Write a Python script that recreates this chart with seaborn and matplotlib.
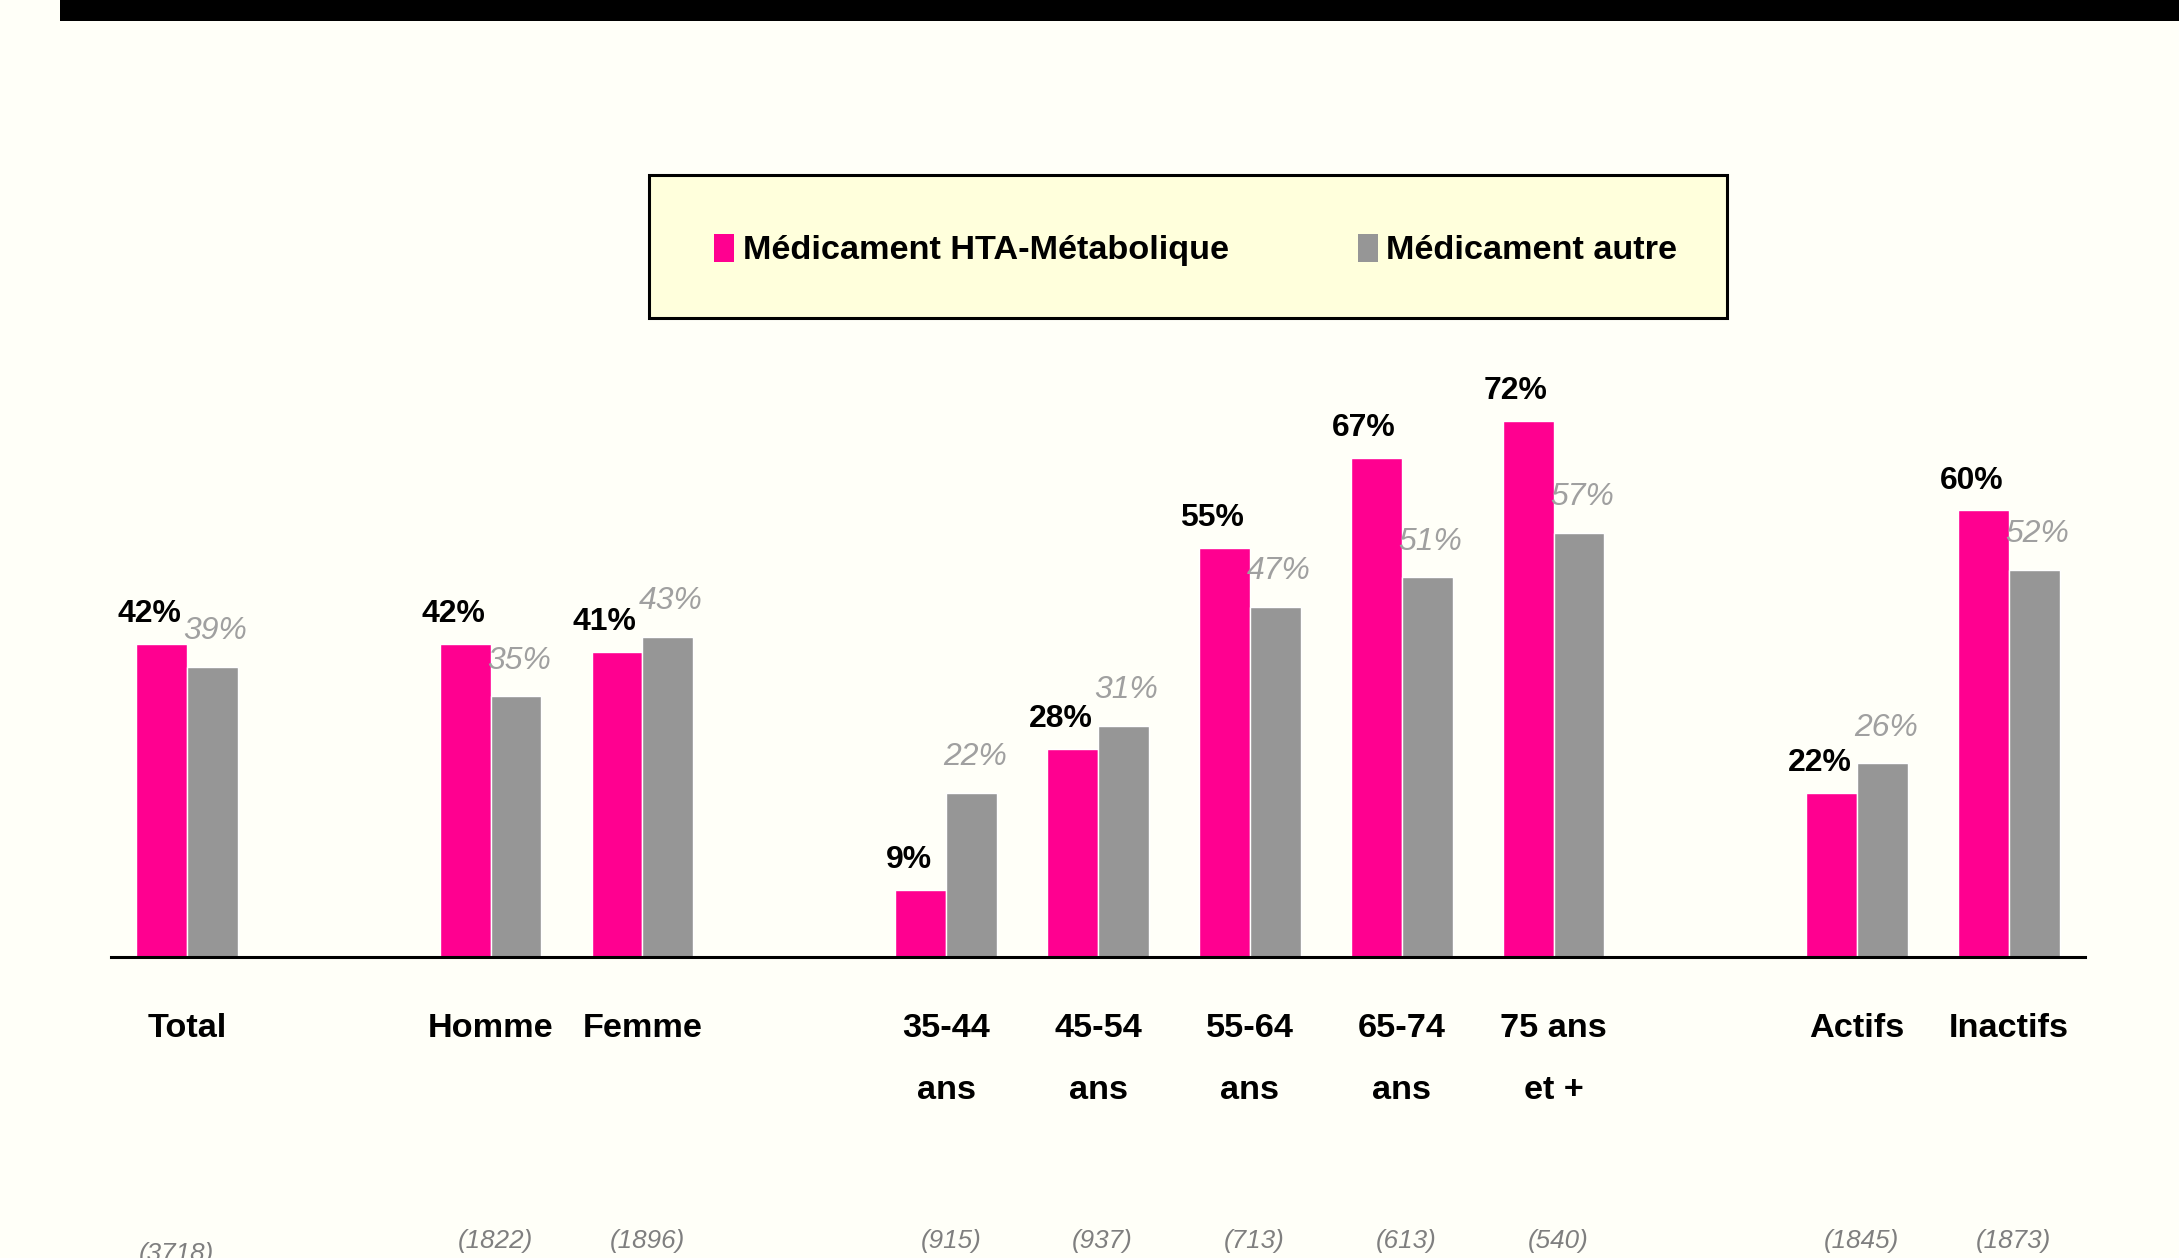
import matplotlib

matplotlib.use("Agg")
import matplotlib.pyplot as plt
from matplotlib import font_manager
from matplotlib.patches import Patch, Rectangle
import pandas as pd
import seaborn as sns

# data
groups = ["Total", "Homme", "Femme", "35-44\nans", "45-54\nans", "55-64\nans",
          "65-74\nans", "75 ans\net +", "Actifs", "Inactifs"]
hta = [42, 42, 41, 9, 28, 55, 67, 72, 22, 60]
autre = [39, 35, 43, 22, 31, 47, 51, 57, 26, 52]
counts = ["(3718)", "(1822)", "(1896)", "(915)", "(937)", "(713)", "(613)",
          "(540)", "(1845)", "(1873)"]
series = ["Médicament HTA-Métabolique", "Médicament autre"]

# slot order with empty gaps between blocks
order = ["Total", "_g1", "Homme", "Femme", "_g2", "35-44\nans", "45-54\nans",
         "55-64\nans", "65-74\nans", "75 ans\net +", "_g3", "Actifs", "Inactifs"]

BG = "#FFFFF8"
PINK = "#FF0090"
GREY = "#969696"

# reference uses Arial Narrow; use it if present, otherwise Arial metrics scaled down
installed = {f.name for f in font_manager.fontManager.ttflist}
if "Liberation Sans Narrow" in installed:
    FONT, k = ["Liberation Sans Narrow", "DejaVu Sans"], 1.0
else:
    FONT, k = ["Liberation Sans", "DejaVu Sans"], 0.85

sns.set_style("white")
plt.rcParams["font.family"] = FONT

df = pd.DataFrame({
    "group": groups * 2,
    "serie": [series[0]] * len(groups) + [series[1]] * len(groups),
    "value": hta + autre,
})

W, H = 2179, 1258
fig = plt.figure(figsize=(W / 100, H / 100), dpi=100, facecolor=BG)
ax = fig.add_axes([111 / W, 1 - 957 / H, (2085 - 111) / W, 655 / H])
ax.set_facecolor(BG)

sns.barplot(data=df, x="group", y="value", hue="serie", order=order,
            hue_order=series, palette={series[0]: PINK, series[1]: GREY},
            width=0.67, saturation=1, legend=False, ax=ax)

ax.set_xlim(-0.5, 12.5)
ax.set_ylim(0, 88)
ax.set_xlabel("")
ax.set_ylabel("")
ax.set_yticks([])
for s in ["top", "left", "right"]:
    ax.spines[s].set_visible(False)
ax.spines["bottom"].set_color("black")
ax.spines["bottom"].set_linewidth(2.2)

# value labels
for bar, v in zip(ax.containers[0], hta):
    cx = bar.get_x() + bar.get_width() / 2
    ax.text(cx - 0.08, bar.get_height() + 2.0, f"{v}%", ha="center", va="bottom",
            fontsize=27 * k, fontweight="bold", color="black")
for bar, v in zip(ax.containers[1], autre):
    cx = bar.get_x() + bar.get_width() / 2
    ax.text(cx + 0.02, bar.get_height() + 2.8, f"{v}%", ha="center", va="bottom",
            fontsize=27 * k, fontstyle="italic", color="#A0A0A0")

ticklabels = ["" if o.startswith("_") else o for o in order]
ax.set_xticks(range(len(order)))
ax.set_xticklabels(ticklabels, fontsize=29 * k, fontweight="bold", color="black",
                   linespacing=2.3)
ax.tick_params(axis="x", length=0, pad=40)

# sample sizes
trans = ax.get_xaxis_transform()
slots = [i for i, o in enumerate(order) if not o.startswith("_")]
for i, (x, c) in enumerate(zip(slots, counts)):
    y = -0.453 if i == 0 else -0.434
    ax.text(x - (0.07 if i == 0 else -0.03), y, c, transform=trans, ha="center",
            va="center", fontsize=22 * k, fontstyle="italic", color="#7F7F7F")

# legend box
fig.patches.append(Rectangle((649 / W, 1 - 318 / H), (1727 - 649) / W, 143 / H,
                             transform=fig.transFigure, facecolor="#FFFFDC",
                             edgecolor="black", linewidth=2.2, zorder=0))
handles = [Patch(facecolor=PINK, edgecolor="none"), Patch(facecolor=GREY, edgecolor="none")]
leg = fig.legend(handles, series, loc="center left",
                 bbox_to_anchor=(714 / W, 1 - 250 / H), ncol=2, frameon=False,
                 prop={"family": FONT, "weight": "bold", "size": 29 * k},
                 labelcolor="black",
                 handlelength=0.5 / k, handleheight=0.75 / k, handletextpad=0.25,
                 columnspacing=3.2 / k, borderpad=0, borderaxespad=0)

# black banner at the top (title cut off)
fig.patches.append(Rectangle((60 / W, 1 - 21 / H), 1, 21 / H,
                             transform=fig.transFigure, facecolor="black",
                             edgecolor="none"))

fig.savefig("out.png", dpi=100, facecolor=BG)
